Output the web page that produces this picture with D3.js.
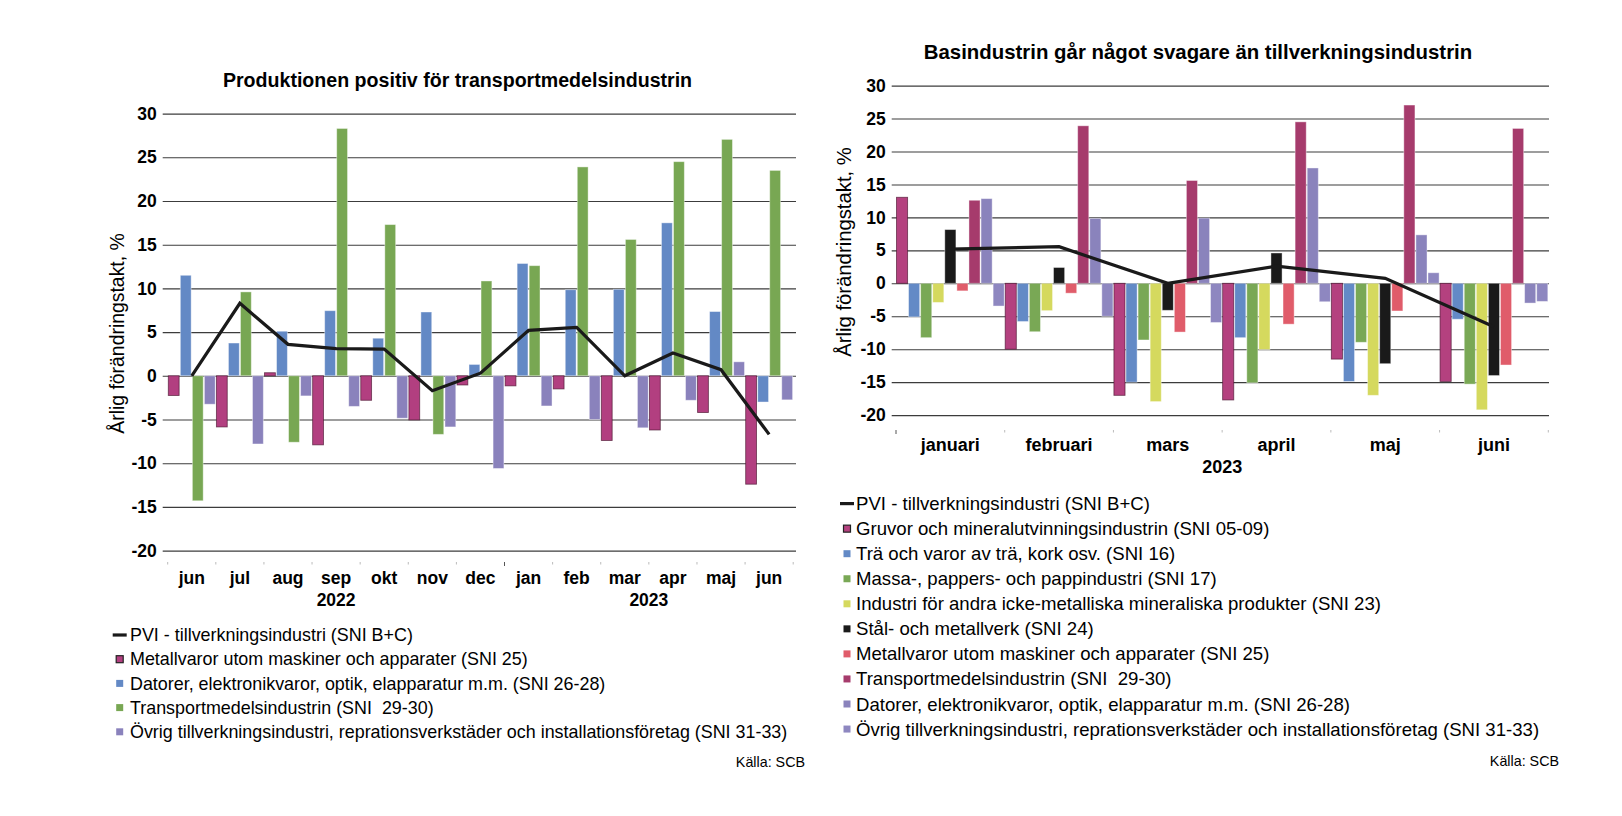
<!DOCTYPE html>
<html><head><meta charset="utf-8">
<script src="https://cdn.jsdelivr.net/npm/d3@7"></script>
<style>
body{margin:0;background:#fff}
svg{display:block}
text{font-family:"Liberation Sans",Arial,Helvetica,sans-serif;fill:#000;white-space:pre}
</style></head>
<body><svg id="c" width="1622" height="816"></svg>
<script>
// ---------- LEFT CHART DATA ----------
const leftTitle = "Produktionen positiv för transportmedelsindustrin";
const leftMonths = ["jun","jul","aug","sep","okt","nov","dec","jan","feb","mar","apr","maj","jun"];
const leftYears = ["2022","2023"];
const leftYearStart = [0, 7];
const leftYearEnd = [6, 12];
const leftTicks = [-20,-15,-10,-5,0,5,10,15,20,25,30];
const leftPVI       = [0.0, 8.3, 3.6, 3.1, 3.05, -1.7, 0.3, 5.2, 5.55, 0.0, 2.6, 0.7, -6.7];
const leftMetall    = [-2.25, -5.85, 0.35, -7.9, -2.8, -5.05, -1.05, -1.15, -1.5, -7.4, -6.2, -4.2, -12.4];
const leftDatorer   = [11.5, 3.75, 5.1, 7.45, 4.3, 7.3, 1.3, 12.85, 9.85, 9.9, 17.5, 7.35, -3.0];
const leftTransport = [-14.3, 9.6, -7.6, 28.3, 17.3, -6.7, 10.85, 12.6, 23.9, 15.6, 24.5, 27.05, 23.5];
const leftOvrig     = [-3.25, -7.8, -2.3, -3.5, -4.85, -5.85, -10.6, -3.45, -5.0, -5.95, -2.8, 1.6, -2.75];
const leftSeriesNames = [
  "Metallvaror utom maskiner och apparater (SNI 25)",
  "Datorer, elektronikvaror, optik, elapparatur m.m. (SNI 26-28)",
  "Transportmedelsindustrin (SNI  29-30)",
  "Övrig tillverkningsindustri, reprationsverkstäder och installationsföretag (SNI 31-33)"
];
const leftColors = ["#B23F80","#6389C5","#78A753","#8A82BC"];
const pviName = "PVI - tillverkningsindustri (SNI B+C)";

// ---------- RIGHT CHART DATA ----------
const rightTitle = "Basindustrin går något svagare än tillverkningsindustrin";
const rightMonths = ["januari","februari","mars","april","maj","juni"];
const rightYear = "2023";
const rightTicks = [-20,-15,-10,-5,0,5,10,15,20,25,30];
const rightPVI       = [5.2, 5.55, 0.0, 2.6, 0.75, -6.6];
const rightGruvor    = [13.05, -10.0, -17.0, -17.7, -11.5, -14.9];
const rightTra       = [-5.1, -5.8, -15.0, -8.25, -14.9, -5.45];
const rightMassa     = [-8.25, -7.35, -8.6, -15.1, -8.95, -15.3];
const rightIndustri  = [-2.9, -4.15, -17.95, -10.05, -17.0, -19.2];
const rightStal      = [8.15, 2.4, -4.1, 4.6, -12.2, -14.0];
const rightMetall    = [-1.15, -1.5, -7.4, -6.2, -4.2, -12.4];
const rightTransport = [12.6, 23.9, 15.6, 24.5, 27.05, 23.5];
const rightDatorer   = [12.85, 9.85, 9.9, 17.5, 7.35, -3.0];
const rightOvrig     = [-3.45, -5.0, -5.95, -2.8, 1.6, -2.75];
const rightSeriesNames = [
  "Gruvor och mineralutvinningsindustrin (SNI 05-09)",
  "Trä och varor av trä, kork osv. (SNI 16)",
  "Massa-, pappers- och pappindustri (SNI 17)",
  "Industri för andra icke-metalliska mineraliska produkter (SNI 23)",
  "Stål- och metallverk (SNI 24)",
  "Metallvaror utom maskiner och apparater (SNI 25)",
  "Transportmedelsindustrin (SNI  29-30)",
  "Datorer, elektronikvaror, optik, elapparatur m.m. (SNI 26-28)",
  "Övrig tillverkningsindustri, reprationsverkstäder och installationsföretag (SNI 31-33)"
];
const rightColors = ["#B4417F","#638AC6","#79A855","#D5D95E","#1A1A1A","#E05C6A","#A63B6C","#8A83BC","#8E87C0"];
const yAxisTitle = "Årlig förändringstakt, %";
const sourceText = "Källa: SCB";

const svg = d3.select("#c");

function drawChart(cfg){
  const g = svg.append("g");
  const x = d3.scaleBand().domain(d3.range(cfg.months.length)).range([cfg.catLeft, cfg.catRight]).padding(0);
  const xs = d3.scaleBand().domain(d3.range(cfg.series.length)).range([0, x.bandwidth()]).paddingInner(cfg.innerPad).paddingOuter(cfg.innerPad/2);
  const y = d3.scaleLinear().domain([-20, 30]).range([cfg.yBottom, cfg.yTop]);

  // grid + y axis
  const ya = g.append("g").attr("transform", `translate(${cfg.gridLeft},0)`)
    .call(d3.axisLeft(y).tickValues(cfg.ticks).tickFormat(d => String(d))
      .tickSize(-(cfg.gridRight - cfg.gridLeft)).tickPadding(6));
  ya.select(".domain").remove();
  ya.selectAll(".tick line").attr("stroke", "#3c3c3c").attr("stroke-width", 1.1);
  ya.selectAll(".tick text").style("font-family", '"Liberation Sans",Arial,sans-serif')
    .style("font-size", cfg.tickFont + "px").style("font-weight", "bold").attr("fill", "#000");

  // bars
  cfg.series.forEach((vals, si) => {
    g.append("g").selectAll("rect").data(vals).join("rect")
      .attr("x", (d, i) => x(i) + xs(si))
      .attr("width", xs.bandwidth())
      .attr("y", d => y(Math.max(0, d)))
      .attr("height", d => Math.abs(y(d) - y(0)))
      .attr("fill", cfg.colors[si])
      .attr("stroke", cfg.darkBorder[si] ? "#4a1530" : "#ffffff")
      .attr("stroke-opacity", cfg.darkBorder[si] ? 0.7 : 0.45)
      .attr("stroke-width", 0.9);
  });

  // PVI line
  const line = d3.line().x((d, i) => x(i) + x.bandwidth() / 2).y(d => y(d));
  g.append("path").datum(cfg.pvi).attr("d", line).attr("fill", "none")
    .attr("stroke", "#1a1a1a").attr("stroke-width", 3.2).attr("stroke-linejoin", "miter");

  // x ticks (small marks at category boundaries)
  const bounds = d3.range(cfg.months.length + 1);
  g.append("g").selectAll("line").data(bounds).join("line")
    .attr("x1", i => i < cfg.months.length ? x(i) : cfg.catRight)
    .attr("x2", i => i < cfg.months.length ? x(i) : cfg.catRight)
    .attr("y1", cfg.axisY)
    .attr("y2", i => cfg.majorTicks.includes(i) ? cfg.axisY + 4 : cfg.axisY + 2.5)
    .attr("stroke", i => cfg.majorTicks.includes(i) ? "#555" : "#bbb")
    .attr("stroke-width", 1);

  // month labels
  g.append("g").selectAll("text").data(cfg.months).join("text")
    .attr("x", (d, i) => x(i) + x.bandwidth() / 2)
    .attr("y", cfg.monthY)
    .attr("text-anchor", "middle")
    .style("font-size", cfg.labelFont + "px").style("font-weight", "bold")
    .text(d => d);

  // year labels
  cfg.years.forEach((yr, k) => {
    const cx = (x(cfg.yearStart[k]) + x(cfg.yearEnd[k]) + x.bandwidth()) / 2;
    g.append("text").attr("x", cx).attr("y", cfg.yearY).attr("text-anchor", "middle")
      .style("font-size", cfg.labelFont + "px").style("font-weight", "bold").text(yr);
  });

  // title
  g.append("text").attr("x", cfg.titleX).attr("y", cfg.titleY).attr("text-anchor", "middle")
    .style("font-size", cfg.titleFont + "px").style("font-weight", "bold").text(cfg.title);

  // y axis title
  g.append("text").attr("transform", `translate(${cfg.yTitleX},${cfg.yTitleY}) rotate(-90)`)
    .attr("text-anchor", "middle").attr("dy", "0.35em")
    .style("font-size", cfg.yTitleFont + "px").text(yAxisTitle);

  // legend
  const lg = g.append("g");
  const names = [pviName].concat(cfg.names);
  names.forEach((nm, k) => {
    const ry = cfg.legY + k * cfg.legStep;
    if (k === 0) {
      lg.append("line").attr("x1", cfg.legMarkX - 7).attr("x2", cfg.legMarkX + 7)
        .attr("y1", ry).attr("y2", ry).attr("stroke", "#1a1a1a").attr("stroke-width", 3.2);
    } else {
      const si = k - 1;
      lg.append("rect").attr("x", cfg.legMarkX - 3.5).attr("y", ry - 3.5).attr("width", 7).attr("height", 7)
        .attr("fill", cfg.colors[si])
        .attr("stroke", cfg.darkBorder[si] ? "#222" : "none").attr("stroke-width", cfg.darkBorder[si] ? 1.2 : 0);
    }
    lg.append("text").attr("x", cfg.legTextX).attr("y", ry).attr("dy", "0.35em")
      .attr("xml:space", "preserve")
      .style("font-size", cfg.legFont + "px").text(nm);
  });

  // source
  g.append("text").attr("x", cfg.srcX).attr("y", cfg.srcY).attr("text-anchor", "end")
    .style("font-size", "14.3px").text(sourceText);
}

drawChart({
  months: leftMonths, years: leftYears, yearStart: leftYearStart, yearEnd: leftYearEnd,
  series: [leftMetall, leftDatorer, leftTransport, leftOvrig], pvi: leftPVI,
  names: leftSeriesNames, colors: leftColors, darkBorder: [true, false, false, false],
  ticks: leftTicks,
  catLeft: 167.7, catRight: 793.2, innerPad: 0.1,
  gridLeft: 162.7, gridRight: 796, yTop: 113.6, yBottom: 550.6,
  axisY: 562, majorTicks: [7], monthY: 584, yearY: 606,
  tickFont: 17.5, labelFont: 17.5,
  title: leftTitle, titleX: 457.5, titleY: 87.3, titleFont: 19.6,
  yTitleX: 117, yTitleY: 333.5, yTitleFont: 19.4,
  legY: 635, legStep: 24.2, legMarkX: 119.7, legTextX: 130, legFont: 17.9,
  srcX: 805, srcY: 767
});

drawChart({
  months: rightMonths, years: [rightYear], yearStart: [0], yearEnd: [5],
  series: [rightGruvor, rightTra, rightMassa, rightIndustri, rightStal, rightMetall, rightTransport, rightDatorer, rightOvrig],
  pvi: rightPVI,
  names: rightSeriesNames, colors: rightColors, darkBorder: [true, false, false, false, false, false, false, false, false],
  ticks: rightTicks,
  catLeft: 896, catRight: 1548.3, innerPad: 0.08,
  gridLeft: 891.7, gridRight: 1549, yTop: 85.6, yBottom: 415.1,
  axisY: 430, majorTicks: [0], monthY: 451, yearY: 473,
  tickFont: 17.5, labelFont: 18,
  title: rightTitle, titleX: 1198, titleY: 58.7, titleFont: 20.4,
  yTitleX: 844, yTitleY: 252, yTitleFont: 20.3,
  legY: 503.6, legStep: 25.05, legMarkX: 847, legTextX: 856, legFont: 18.6,
  srcX: 1559, srcY: 766
});
</script>
</body></html>
